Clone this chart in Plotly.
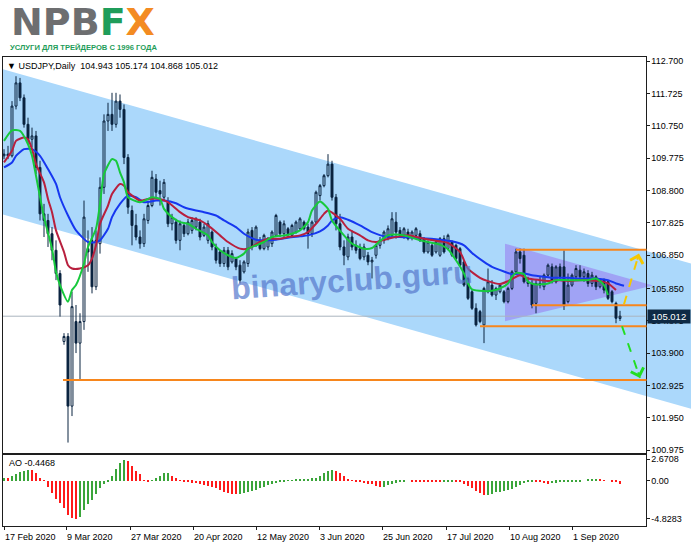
import plotly.graph_objects as go

# ---------------- data ----------------
opens = [109.85, 109.90, 109.85, 111.35, 112.05, 111.60, 110.80, 110.35, 110.45, 109.50,
         108.10, 107.90, 107.50, 107.00, 106.30, 104.25, 104.40, 102.30, 104.85, 104.20,
         104.85, 107.05, 107.30, 105.90, 107.20, 108.90, 110.90, 111.10, 110.80, 111.50,
         111.25, 109.80, 108.20, 107.75, 107.40, 107.20, 107.90, 108.35, 109.15, 108.80,
         108.60, 108.45, 107.80, 107.85, 107.30, 107.75, 107.50, 107.60, 107.70, 107.85,
         107.45, 107.30, 107.55, 107.10, 106.95, 106.60, 107.00, 106.65, 106.75, 106.55,
         106.35, 106.60, 107.60, 107.15, 107.30, 107.05, 107.10, 107.20, 107.45, 107.85,
         107.50, 107.65, 107.45, 107.55, 107.65, 107.85, 107.70, 107.50, 107.85, 108.65,
         108.95, 109.25, 109.60, 108.60, 107.80, 107.10, 106.80, 107.40, 107.15, 107.05,
         106.80, 106.85, 106.65, 106.85, 107.15, 107.30, 107.45, 107.45, 107.85, 107.60,
         107.45, 107.55, 107.40, 107.45, 107.50, 107.35, 106.95, 107.15, 106.95, 106.85,
         107.35, 107.05, 107.25, 107.15, 107.05, 106.65, 106.15, 105.75, 105.25, 105.15,
         104.75, 105.75, 105.95, 105.65, 105.75, 105.75, 105.45, 105.85, 106.35, 106.95,
         106.85, 106.05, 106.00, 105.40, 106.00, 105.90, 106.25, 106.50, 106.05, 106.50,
         106.50, 105.45, 105.95, 106.20, 106.40, 106.20, 106.30, 106.00, 106.20, 105.90,
         106.10, 106.05, 105.75, 105.40, 104.943]
highs = [110.05, 110.15, 111.50, 112.25, 112.20, 111.70, 111.00, 110.70, 110.60, 109.70,
         108.40, 108.10, 107.70, 107.30, 106.40, 104.50, 104.50, 105.75, 105.35, 105.10,
         108.50, 107.60, 107.70, 107.60, 109.20, 111.10, 111.45, 111.75, 111.75, 111.70,
         111.40, 109.90, 108.35, 108.10, 107.60, 108.10, 108.50, 109.40, 109.30, 109.10,
         109.15, 108.60, 108.10, 107.95, 107.90, 107.85, 107.95, 108.00, 108.00, 107.95,
         107.80, 107.90, 107.60, 107.20, 107.00, 107.10, 107.10, 107.00, 106.80, 106.70,
         106.70, 107.65, 107.70, 107.75, 107.40, 107.50, 107.40, 107.60, 108.10, 107.90,
         107.90, 107.70, 107.80, 107.90, 108.00, 107.90, 107.80, 107.90, 108.80, 109.00,
         109.30, 109.90, 109.70, 108.70, 108.10, 107.30, 107.50, 107.60, 107.30, 107.20,
         107.20, 106.95, 106.80, 107.20, 107.40, 107.60, 107.75, 108.15, 108.15, 107.70,
         107.70, 107.65, 107.60, 107.70, 107.60, 107.40, 107.30, 107.20, 107.30, 107.40,
         107.45, 107.50, 107.30, 107.20, 107.10, 106.70, 106.20, 105.80, 105.40, 105.20,
         105.90, 106.45, 106.10, 105.90, 106.00, 105.80, 105.90, 106.40, 107.05, 107.05,
         107.05, 106.20, 106.10, 106.10, 106.20, 106.30, 106.60, 106.60, 106.55, 106.60,
         107.00, 106.30, 106.30, 106.55, 106.55, 106.45, 106.40, 106.35, 106.25, 106.15,
         106.15, 106.10, 105.80, 105.45, 105.174]
lows = [109.75, 109.75, 109.80, 111.25, 111.50, 110.70, 110.20, 110.10, 109.30, 107.90,
        107.40, 107.10, 106.70, 106.10, 105.00, 104.15, 101.20, 102.00, 103.90, 103.10,
        104.60, 106.35, 105.70, 105.80, 106.90, 108.70, 110.60, 110.60, 110.70, 111.00,
        109.60, 108.10, 107.15, 107.30, 107.05, 107.10, 107.80, 108.30, 108.60, 108.35,
        108.50, 107.70, 107.60, 107.20, 107.00, 107.40, 107.45, 107.50, 107.60, 107.30,
        107.40, 107.20, 107.00, 106.60, 106.50, 106.50, 106.40, 106.60, 106.40, 106.00,
        106.30, 106.50, 107.00, 107.10, 107.00, 107.00, 107.00, 107.10, 107.40, 107.40,
        107.40, 107.40, 107.40, 107.50, 107.60, 107.60, 107.05, 107.40, 107.80, 108.50,
        108.90, 109.20, 108.50, 107.60, 107.00, 106.55, 106.70, 107.00, 106.90, 106.70,
        106.70, 106.55, 106.15, 106.75, 107.05, 107.20, 107.30, 107.40, 107.35, 107.40,
        107.35, 107.30, 107.30, 107.35, 107.25, 106.90, 106.90, 106.80, 106.90, 106.80,
        106.90, 107.00, 106.80, 106.70, 106.50, 105.90, 105.50, 105.20, 104.70, 104.80,
        104.20, 105.70, 105.60, 105.50, 105.70, 105.40, 105.40, 105.80, 106.30, 106.60,
        106.00, 105.90, 105.25, 105.10, 105.85, 105.80, 106.20, 106.00, 106.00, 106.10,
        105.20, 105.40, 105.90, 106.10, 106.10, 106.05, 105.90, 105.90, 105.80, 105.85,
        105.70, 105.50, 105.40, 104.80, 104.868]
closes = [109.90, 109.85, 111.35, 112.05, 111.60, 110.80, 110.35, 110.45, 109.50, 108.10,
          107.90, 107.50, 107.00, 106.30, 105.35, 104.40, 102.30, 105.30, 104.20, 104.85,
          108.00, 106.95, 105.90, 107.30, 108.90, 110.90, 111.10, 110.80, 111.50, 111.25,
          109.80, 108.30, 107.75, 107.40, 107.20, 107.95, 108.35, 109.20, 108.75, 108.70,
          109.05, 107.80, 108.00, 107.30, 107.80, 107.50, 107.85, 107.90, 107.95, 107.40,
          107.70, 107.80, 107.10, 106.70, 106.60, 107.00, 106.50, 106.90, 106.50, 106.10,
          106.65, 107.55, 107.10, 107.70, 107.05, 107.45, 107.35, 107.55, 108.05, 107.50,
          107.80, 107.50, 107.75, 107.85, 107.95, 107.65, 107.50, 107.85, 108.75, 108.95,
          109.25, 109.60, 108.60, 107.80, 107.10, 106.85, 107.40, 107.10, 107.00, 106.75,
          107.10, 106.65, 106.70, 107.15, 107.30, 107.55, 107.65, 107.95, 107.55, 107.45,
          107.65, 107.35, 107.55, 107.65, 107.30, 106.95, 107.25, 106.85, 107.25, 107.35,
          106.95, 107.45, 106.85, 106.75, 106.55, 105.95, 105.55, 105.25, 104.75, 104.85,
          105.85, 106.05, 105.65, 105.85, 105.95, 105.45, 105.85, 106.35, 106.95, 106.75,
          106.05, 106.00, 105.35, 106.00, 105.95, 106.25, 106.55, 106.05, 106.50, 106.20,
          105.35, 105.95, 106.25, 106.45, 106.20, 106.35, 106.00, 106.25, 105.90, 106.10,
          105.80, 105.55, 105.45, 104.95, 105.012]

ao_values = [0.38, 0.33, 0.55, 0.80, 1.10, 1.30, 1.42, 1.33, 1.00, 0.37, 0.08,
             -0.80, -1.50, -2.30, -2.75, -3.40, -4.30, -4.70, -4.8283, -4.60, -3.60,
             -2.95, -2.35, -1.70, -0.95, -0.45, -0.05, 0.55, 1.45, 2.20, 2.6708,
             2.45, 1.85, 1.30, 0.80, 0.10, -0.05, 0.02, 0.30, 0.60, 0.95,
             1.00, 0.60, 0.30, 0.08, -0.08, -0.15, -0.22, -0.30, -0.40, -0.50,
             -0.60, -0.75, -0.95, -1.15, -1.35, -1.50, -1.62, -1.65, -1.60, -1.50,
             -1.38, -1.25, -1.10, -0.92, -0.75, -0.58, -0.42, -0.28, -0.15, -0.05,
             0.02, 0.08, 0.15, 0.20, 0.22, 0.25, 0.30, 0.42, 0.65, 0.95,
             1.30, 1.42, 1.30, 0.95, 0.55, 0.20, 0.02, -0.10, -0.20, -0.28,
             -0.35, -0.45, -0.60, -0.78, -0.72, -0.55, -0.40, -0.22, -0.12, -0.05,
             0.00, -0.08, -0.09, -0.10, -0.12, -0.14, -0.16, -0.18, -0.20, -0.18,
             -0.15, -0.12, -0.15, -0.20, -0.45, -0.70, -0.95, -1.25, -1.50, -1.80,
             -1.75, -1.60, -1.45, -1.35, -1.25, -1.15, -1.00, -0.80, -0.55, -0.30,
             -0.10, -0.02, -0.12, -0.20, -0.28, -0.35, -0.30, -0.22, -0.15, -0.10,
             -0.07, -0.05, -0.03, -0.02, 0.00, 0.12, 0.15, 0.16, 0.12, 0.06,
             0.00, -0.06, -0.10, -0.4468]

# Alligator lines read at sample bars
lips_bars = [0, 2, 4, 6, 7, 8, 10, 12, 13, 14, 16, 17, 18, 20, 21, 23, 24, 25, 27, 28, 29, 30, 31,
             34, 37, 39, 40, 42, 44, 46, 48, 51, 52, 54, 56, 58, 60, 61, 63, 65, 67, 70, 72, 74,
             76, 77, 79, 81, 82, 85, 87, 90, 92, 94, 96, 99, 101, 104, 106, 109, 111, 113, 115,
             116, 117, 120, 122, 124, 126, 127, 128, 130, 131, 133, 136, 138, 141, 143, 146,
             148, 150, 151]
lips_vals = [110.30, 110.62, 110.60, 110.20, 109.85, 109.25, 108.00, 107.05, 106.35, 105.95,
             105.45, 105.80, 105.95, 106.60, 107.10, 107.65, 108.40, 109.30, 109.75, 109.70,
             109.35, 109.05, 108.60, 108.45, 108.60, 108.55, 108.25, 108.00, 107.85, 107.80,
             107.65, 107.45, 107.25, 107.00, 106.85, 106.77, 106.90, 107.05, 107.15, 107.25,
             107.40, 107.45, 107.50, 107.60, 107.85, 108.20, 108.47, 108.25, 107.90, 107.45,
             107.20, 107.05, 107.07, 107.28, 107.45, 107.47, 107.42, 107.30, 107.25, 107.17,
             107.03, 106.70, 106.30, 106.00, 105.82, 105.77, 105.78, 105.85, 106.00, 106.20,
             106.32, 106.28, 106.05, 105.97, 106.00, 106.10, 106.10, 106.10, 106.10, 106.15,
             105.95, 105.65]
teeth_bars = [0, 2, 3, 5, 6, 7, 8, 10, 11, 12, 13, 15, 16, 17, 19, 21, 22, 23, 24, 26, 27, 29,
              30, 31, 34, 36, 39, 41, 44, 46, 49, 51, 54, 56, 59, 61, 64, 66, 69, 71, 74, 76, 78,
              80, 81, 84, 86, 89, 91, 93, 96, 99, 101, 105, 109, 111, 114, 116, 119, 121, 124,
              126, 129, 131, 134, 136, 139, 141, 144, 146, 149, 151, 153]
teeth_vals = [109.65, 110.00, 110.30, 110.40, 110.35, 110.05, 109.60, 109.05, 108.55, 108.15,
              107.60, 106.95, 106.55, 106.45, 106.45, 106.55, 106.75, 107.15, 107.80, 108.35,
              108.70, 109.00, 108.95, 108.75, 108.50, 108.55, 108.55, 108.45, 108.15, 108.00,
              107.90, 107.75, 107.45, 107.25, 107.05, 107.05, 107.25, 107.35, 107.35, 107.40,
              107.45, 107.55, 107.80, 108.10, 108.20, 107.95, 107.65, 107.45, 107.30, 107.25,
              107.35, 107.42, 107.45, 107.35, 107.27, 107.22, 106.95, 106.45, 106.17, 106.07,
              105.98, 106.07, 106.25, 106.15, 106.10, 106.07, 106.10, 106.07, 106.10, 106.10,
              106.07, 106.00, 105.80]
jaw_bars = [0, 2, 3, 5, 7, 9, 11, 13, 14, 16, 18, 21, 23, 24, 26, 27, 29, 31, 33, 35, 38, 40,
            43, 45, 48, 50, 53, 55, 58, 60, 63, 65, 68, 71, 74, 76, 79, 81, 82, 84, 86, 89, 92,
            96, 99, 104, 109, 112, 115, 117, 120, 122, 125, 127, 130, 132, 135, 137, 141, 144,
            147, 151, 153, 155]
jaw_vals = [109.50, 109.65, 109.85, 110.05, 110.05, 109.85, 109.45, 109.00, 108.60, 108.05,
            107.60, 107.25, 107.25, 107.30, 107.65, 108.00, 108.40, 108.65, 108.60, 108.45,
            108.50, 108.50, 108.42, 108.30, 108.20, 108.15, 108.05, 107.90, 107.70, 107.50,
            107.32, 107.30, 107.32, 107.38, 107.42, 107.45, 107.57, 107.75, 107.90, 108.00,
            107.92, 107.75, 107.55, 107.40, 107.40, 107.37, 107.32, 107.27, 107.15, 106.92,
            106.65, 106.50, 106.36, 106.28, 106.30, 106.25, 106.20, 106.17, 106.17, 106.15,
            106.15, 106.10, 106.00, 105.93]

price_tick_labels = ["112.700", "111.725", "110.750", "109.775", "108.800", "107.825", "106.850",
                     "105.850", "104.875", "103.900", "102.925", "101.950", "100.975"]
ao_tick_labels = ["2.6708", "0.00", "-4.8283"]
date_labels = ["17 Feb 2020", "9 Mar 2020", "27 Mar 2020", "20 Apr 2020", "12 May 2020",
               "3 Jun 2020", "25 Jun 2020", "17 Jul 2020", "10 Aug 2020", "1 Sep 2020"]
date_label_bars = [0, 15.5, 31.5, 47.25, 63, 78.75, 94.5, 110.5, 126.25, 142]

symbol_text = "USDJPY,Daily"
last_ohlc = ["104.943", "105.174", "104.868", "105.012"]
ao_last = "-0.4468"
last_price = 105.012

# analysis drawings (bar index, price)
channel_top = [(-0.25, 112.46), (171.75, 106.60)]
channel_bottom = [(-0.25, 108.08), (171.75, 102.22)]
triangle_pts = [(125.25, 107.20), (162.25, 105.94), (125.25, 104.86)]
level_starts = [128, 132, 119, 14.75]
level_prices = [107.02, 105.34, 104.71, 103.09]
arrow_up = [(155.0, 105.37), (158.75, 106.90)]
arrow_down = [(154.5, 104.71), (159.0, 103.15)]

# ---------------- geometry ----------------
W, H = 691, 549
PL, PR = 3.0, 645.5
MT, MB = 57.0, 455.0
AT, AB = 457.0, 529.0
XMIN, XMAX = -0.25, 160.375
YMIN, YMAX = 100.90, 112.84
AOMIN, AOMAX = -5.75, 3.25

def kx(k):
    return (PL + (k - XMIN) / (XMAX - XMIN) * (PR - PL)) / W

def px(x):
    return x / W

def py(y):
    return 1 - y / H

bars = list(range(len(closes)))
ao_colors = ["#3aa53a" if i == 0 or ao_values[i] > ao_values[i - 1] else "#ff1a1a"
             for i in range(len(ao_values))]

CANDLE = "#0b2440"
FONT = "Liberation Sans, Arial, sans-serif"

fig = go.Figure()
fig.add_trace(go.Candlestick(
    x=bars, open=opens, high=highs, low=lows, close=closes,
    increasing=dict(line=dict(color=CANDLE, width=1), fillcolor="rgba(0,0,0,0)"),
    decreasing=dict(line=dict(color=CANDLE, width=1), fillcolor=CANDLE),
    whiskerwidth=0, showlegend=False, hoverinfo="skip", xaxis="x", yaxis="y"))
for xs, ys, col in [(jaw_bars, jaw_vals, "#1637f0"),
                    (teeth_bars, teeth_vals, "#b8203e"),
                    (lips_bars, lips_vals, "#17c93c")]:
    fig.add_trace(go.Scatter(x=xs, y=ys, mode="lines",
                             line=dict(color=col, width=2, shape="spline", smoothing=0.6),
                             showlegend=False, hoverinfo="skip", xaxis="x", yaxis="y"))
fig.add_trace(go.Bar(x=bars, y=ao_values, marker=dict(color=ao_colors, line=dict(width=0)),
                     width=0.35, showlegend=False, hoverinfo="skip", xaxis="x2", yaxis="y2"))

shapes = []
(c0k, c0p), (c1k, c1p) = channel_top
(d0k, d0p), (d1k, d1p) = channel_bottom
shapes.append(dict(type="path", xref="paper", yref="y", layer="below",
                   path=f"M {kx(c0k)},{c0p} L {kx(c1k)},{c1p} L {kx(d1k)},{d1p} L {kx(d0k)},{d0p} Z",
                   fillcolor="#abd8fb", line=dict(width=0)))
tp = triangle_pts
shapes.append(dict(type="path", xref="paper", yref="y", layer="below",
                   path=f"M {kx(tp[0][0])},{tp[0][1]} L {kx(tp[1][0])},{tp[1][1]} L {kx(tp[2][0])},{tp[2][1]} Z",
                   fillcolor="rgba(150,110,240,0.5)", line=dict(width=0)))
shapes.append(dict(type="line", xref="paper", yref="y", layer="below",
                   x0=kx(XMIN), x1=kx(XMAX), y0=last_price, y1=last_price,
                   line=dict(color="#aab4be", width=1)))
for ks, pr in zip(level_starts, level_prices):
    shapes.append(dict(type="line", xref="paper", yref="y", x0=kx(ks), x1=px(646.5),
                       y0=pr, y1=pr, line=dict(color="#f7861c", width=2)))
for (a, b), col in [(arrow_up, "#f5c800"), (arrow_down, "#22dd22")]:
    shapes.append(dict(type="line", xref="x", yref="y", x0=a[0], y0=a[1], x1=b[0], y1=b[1],
                       line=dict(color=col, width=2, dash="dash")))

annotations = [
    dict(x=px(9), y=py(22), xref="paper", yref="paper", xanchor="left", yanchor="middle",
         showarrow=False,
         text="<b><span style='color:#6d6e70'>NPB</span><span style='color:#1f9d5a'>F</span>"
              "<span style='color:#f38b22'>X</span></b>",
         font=dict(family="DejaVu Sans, sans-serif", size=38)),
    dict(x=px(8), y=py(47.5), xref="paper", yref="paper", xanchor="left", yanchor="middle",
         showarrow=False, text="<b>УСЛУГИ ДЛЯ ТРЕЙДЕРОВ С 1996 ГОДА</b>",
         font=dict(family="Liberation Sans, sans-serif", size=7.6, color="#1f9d5a")),
    dict(x=px(5), y=py(66), xref="paper", yref="paper", xanchor="left", yanchor="middle",
         showarrow=False,
         text="▼ " + symbol_text + "\u00a0\u00a0" + " ".join(last_ohlc),
         font=dict(family=FONT, size=9, color="black")),
    dict(x=px(647), y=last_price, xref="paper", yref="y", xanchor="left", yanchor="middle",
         showarrow=False, text=f"{last_price:.3f}", bgcolor="#0e2a45", borderpad=1,
         font=dict(family=FONT, size=9.5, color="white"), width=40),
    dict(x=px(7), y=py(466), xref="paper", yref="paper", xanchor="left", yanchor="middle",
         showarrow=False, text="AO " + ao_last, font=dict(family=FONT, size=9, color="black")),
    dict(x=px(352), y=py(282), xref="paper", yref="paper", xanchor="center", yanchor="middle",
         showarrow=False, text="<b>binaryclub.guru</b>", textangle=-4,
         font=dict(family="Liberation Sans, sans-serif", size=32, color="rgba(88,122,205,0.72)")),
]
for (a, b), col, ax, ay in [(arrow_up, "#f5c800", -2.0, 7.0), (arrow_down, "#22dd22", -2.2, -6.5)]:
    annotations.append(dict(x=b[0], y=b[1], xref="x", yref="y", ax=ax, ay=ay, text="",
                            width=1, height=1, borderpad=0, font=dict(size=1),
                            showarrow=True, arrowhead=4, arrowsize=1.3, arrowwidth=2,
                            arrowcolor=col))

axis_common = dict(showline=True, mirror=True, linecolor="#1e1e1e", linewidth=1,
                   showgrid=False, zeroline=False)
fig.update_layout(
    width=W, height=H, margin=dict(l=0, r=0, t=0, b=0),
    paper_bgcolor="white", plot_bgcolor="rgba(0,0,0,0)", showlegend=False,
    bargap=0,
    xaxis=dict(domain=[PL / W, PR / W], range=[XMIN, XMAX], anchor="y",
               showticklabels=False, ticks="", rangeslider=dict(visible=False), **axis_common),
    yaxis=dict(domain=[py(MB), py(MT)], range=[YMIN, YMAX], anchor="x", side="right",
               tickvals=[float(t) for t in price_tick_labels], ticktext=price_tick_labels,
               ticks="outside", ticklen=3, tickcolor="#1e1e1e",
               tickfont=dict(family=FONT, size=9, color="black"), **axis_common),
    xaxis2=dict(domain=[PL / W, PR / W], range=[XMIN, XMAX], anchor="y2",
                tickvals=date_label_bars, ticktext=date_labels, ticks="outside", ticklen=3,
                tickcolor="#1e1e1e", ticklabelposition="outside right", ticklabelstandoff=2,
                tickfont=dict(family=FONT, size=9, color="black"), **axis_common),
    yaxis2=dict(domain=[py(AB), py(AT)], range=[AOMIN, AOMAX], anchor="x2", side="right",
                tickvals=[float(t) for t in ao_tick_labels], ticktext=ao_tick_labels,
                ticks="outside", ticklen=3, tickcolor="#1e1e1e",
                tickfont=dict(family=FONT, size=9, color="black"), **axis_common),
    shapes=shapes, annotations=annotations,
)

fig.write_html("out.html", config={"displayModeBar": False},
               post_script="document.body.style.margin='0px';")
